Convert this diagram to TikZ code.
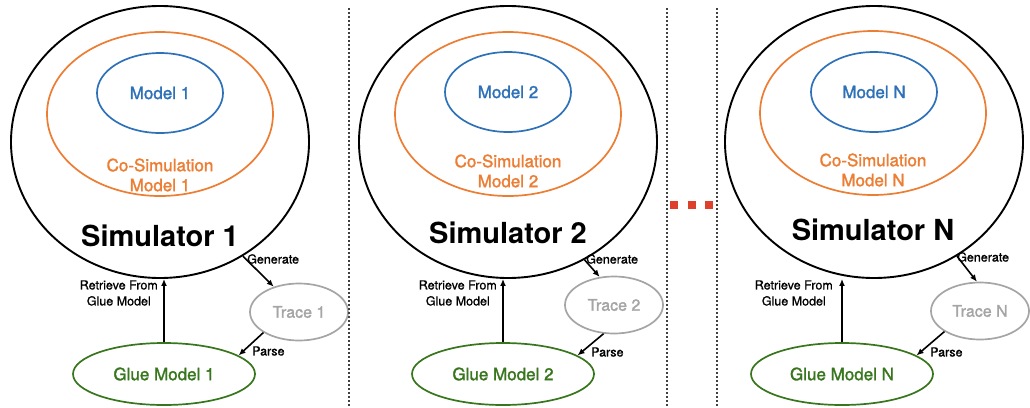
\documentclass[tikz,border=0pt]{standalone}
\usepackage{fontspec}
\setmainfont{TeX Gyre Heros}
\newfontfamily\simmedium{TeX Gyre Heros}[FakeBold=1.6]
\newfontfamily\simlight{TeX Gyre Heros}[FakeBold=0.9]
\usetikzlibrary{shapes.geometric,arrows.meta}
\definecolor{simblue}{RGB}{46,113,184}
\definecolor{simorange}{RGB}{236,125,50}
\definecolor{simgreen}{RGB}{56,118,29}
\definecolor{simgray}{RGB}{165,165,165}
\definecolor{simred}{RGB}{222,64,44}
\begin{document}
\begin{tikzpicture}[x=1pt,y=-1pt,
    sim/.style={ellipse,draw,line width=1.9pt,minimum width=298pt,minimum height=272pt,inner sep=0pt},
    cosim/.style={ellipse,draw=simorange,line width=1.7pt,minimum width=226pt,minimum height=164pt,inner sep=0pt},
    model/.style={ellipse,draw=simblue,text=simblue,line width=1.7pt,minimum width=126pt,minimum height=80pt,inner sep=0pt,font=\simmedium\fontsize{17}{20}\selectfont},
    cosimtext/.style={text=simorange,align=center,font=\simmedium\fontsize{17}{20}\selectfont},
    simtext/.style={font=\fontsize{29}{32}\selectfont\bfseries},
    trace/.style={ellipse,draw=simgray,text=simgray,line width=1.7pt,minimum width=98pt,minimum height=57pt,inner sep=0pt,font=\simmedium\fontsize{16}{18}\selectfont},
    glue/.style={ellipse,draw=simgreen,text=simgreen,line width=1.7pt,minimum width=182pt,minimum height=62pt,inner sep=0pt,font=\simmedium\fontsize{17}{20}\selectfont},
    note/.style={align=center,inner sep=0pt,font=\simlight\fontsize{12.5}{16}\selectfont},
    flow/.style={line width=1.6pt,-{Latex[length=7pt,width=6pt]}},
    divider/.style={line width=1.5pt,draw=black!75,dash pattern=on 2pt off 2pt},
    gap/.style={fill=simred,minimum size=8pt,inner sep=0pt}]
  \useasboundingbox (0,0) rectangle (1030,407);

  % panel 1
  \node[sim] (sim1) at (160,142) {};
  \node[cosim] (cosim1) at (160,114) {};
  \node[model] (model1) at (160,93) {Model 1};
  \node[cosimtext] (cosimtext1) at (160,175) {Co-Simulation\\Model 1};
  \node[simtext] (simtext1) at (160,236) {Simulator 1};
  \node[trace] (trace1) at (299,312) {Trace 1};
  \node[glue] (glue1) at (164,374) {Glue Model 1};
  \draw[flow] (glue1.north) -- (glue1.north |- sim1.south);
  \draw[flow] (sim1.-54.4) -- (trace1.135);
  \draw[flow] (trace1.210) -- (glue1.14);
  \node[note,anchor=east] (retrieve1) at (158,293) {Retrieve From\\Glue Model};
  \node[note,anchor=west] (generate1) at (247,259) {Generate};
  \node[note,anchor=west] (parse1) at (252,351) {Parse};

  % panel 2
  \node[sim] (sim2) at (508,142) {};
  \node[cosim] (cosim2) at (508,114) {};
  \node[model] (model2) at (508,92) {Model 2};
  \node[cosimtext] (cosimtext2) at (508,171) {Co-Simulation\\Model 2};
  \node[simtext] (simtext2) at (508,233) {Simulator 2};
  \node[trace] (trace2) at (614,305) {Trace 2};
  \node[glue] (glue2) at (503,374) {Glue Model 2};
  \draw[flow] (glue2.north) -- (glue2.north |- sim2.south);
  \draw[flow] (sim2.-57) -- (trace2.117);
  \draw[flow] (trace2.250) -- (glue2.14);
  \node[note,anchor=east] (retrieve2) at (497,293) {Retrieve From\\Glue Model};
  \node[note,anchor=west] (generate2) at (586,259) {Generate};
  \node[note,anchor=west] (parse2) at (591,352) {Parse};

  % panel N
  \node[sim] (simN) at (874,142) {};
  \node[cosim] (cosimN) at (873,113) {};
  \node[model] (modelN) at (874,92) {Model N};
  \node[cosimtext] (cosimtextN) at (873,170) {Co-Simulation\\Model N};
  \node[simtext] (simtextN) at (873,230) {Simulator N};
  \node[trace] (traceN) at (980,311) {Trace N};
  \node[glue] (glueN) at (842,374) {Glue Model N};
  \draw[flow] (glueN.north) -- (glueN.north |- simN.south);
  \draw[flow] (simN.-54.6) -- (traceN.96);
  \draw[flow] (traceN.210) -- (glueN.14);
  \node[note,anchor=east] (retrieveN) at (833,293) {Retrieve From\\Glue Model};
  \node[note,anchor=west] (generateN) at (957,257) {Generate};
  \node[note,anchor=west] (parseN) at (930,352) {Parse};

  % dividers and dots
  \coordinate (top1) at (349,8);
  \coordinate (top2) at (667,8);
  \coordinate (top3) at (717,8);
  \draw[divider] (top1) -- (top1 |- 0,407);
  \draw[divider] (top2) -- (top2 |- 0,407);
  \draw[divider] (top3) -- (top3 |- 0,407);
  \node[gap] (dot1) at (674,204.5) {};
  \node[gap] (dot2) at (692,204.5) {};
  \node[gap] (dot3) at (709,204.5) {};
\end{tikzpicture}
\end{document}
